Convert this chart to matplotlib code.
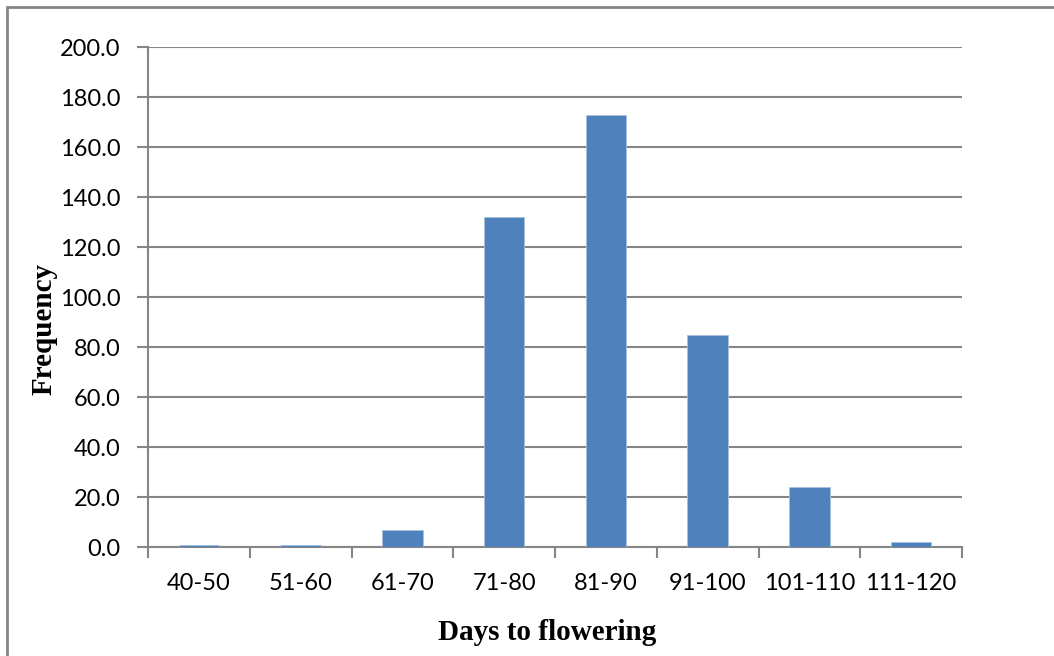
import matplotlib.pyplot as plt
import numpy as np

# flowering time classes and counts
classes = ["40-50", "51-60", "61-70", "71-80", "81-90", "91-100", "101-110", "111-120"]
counts = [1, 1, 7, 132, 173, 85, 24, 2]
y_ticks = [0, 20, 40, 60, 80, 100, 120, 140, 160, 180, 200]

grey = "#868686"
W, H = 1054, 656

fig = plt.figure(figsize=(W / 100, H / 100), dpi=100)
ax = fig.add_axes([148 / W, 1 - 547 / H, (962 - 148) / W, 500 / H])

x = np.arange(len(classes))
ax.bar(x, counts, width=0.4, color="#4F81BD", edgecolor="#A7C0DE", linewidth=0.6, zorder=3)

ax.set_xlim(-0.5, len(classes) - 0.5)
ax.set_ylim(0, 200)
ax.set_yticks(y_ticks)
ax.set_yticklabels([f"{v:.1f}" for v in y_ticks], fontsize=17, family="Lato")
ax.yaxis.grid(True, color=grey, linewidth=1.5, zorder=0)

# category labels centred, tick marks on the class boundaries
ax.set_xticks(x)
ax.set_xticklabels(classes, fontsize=17, family="Lato")
ax.tick_params(axis="x", length=0, pad=19)
ax.set_xticks(np.arange(len(classes) + 1) - 0.5, minor=True)
ax.tick_params(axis="x", which="minor", length=8, width=1.5, color=grey)
ax.tick_params(axis="y", length=8, width=1.5, color=grey, pad=12)

for side in ["top", "right"]:
    ax.spines[side].set_visible(False)
for side in ["left", "bottom"]:
    ax.spines[side].set_color(grey)
    ax.spines[side].set_linewidth(1.5)

# axis titles
fig.text(547 / W, 1 - 632 / H, "Days to flowering", fontsize=21, fontweight="bold",
         family="Liberation Serif", ha="center", va="center")
fig.text(44 / W, 1 - 329 / H, "Frequency", fontsize=21, fontweight="bold",
         family="Liberation Serif", ha="center", va="center", rotation=90)

# outer chart frame (right and bottom edges fall outside the canvas)
frame = plt.Rectangle((6.5 / W, -0.1), 1.2, 1.1 - 6.5 / H, transform=fig.transFigure,
                      fill=False, edgecolor=grey, linewidth=2)
fig.add_artist(frame)

fig.savefig("out.png", dpi=100)
